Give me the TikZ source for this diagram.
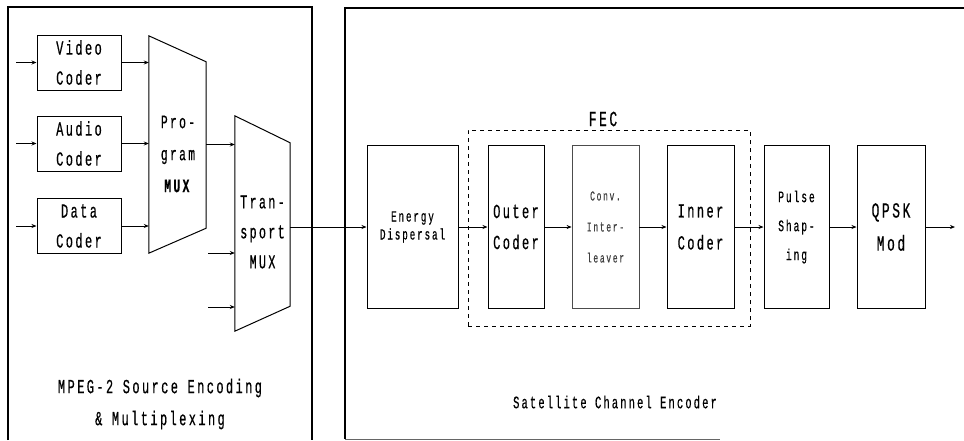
\documentclass[tikz,border=0pt]{standalone}
\usepackage{fontspec}
\setmainfont{Liberation Mono}[FakeStretch=0.6, LetterSpace=12, FakeBold=0.5]
\usetikzlibrary{positioning, arrows.meta}
\newcommand{\fsz}[2]{\fontsize{#1}{#2}\selectfont}

\begin{document}
\begin{tikzpicture}[
      x=1pt, y=-1pt,
      every node/.style={inner sep=0pt},
      block/.style={draw, line width=1pt, align=center},
      fecbox/.style={draw, dashed, line width=0.8pt, dash pattern=on 4pt off 4pt},
      arr/.style={-{Stealth[length=5pt, width=4pt]}, line width=0.7pt},
      >=Stealth,
    ]
    \useasboundingbox (0,0) rectangle (964,440);

    % Frames
    \draw[line width=1.2pt] (8,440) -- (8,7) -- (312,7) -- (312,440);
    \draw[line width=1.2pt] (964,8) -- (345,8) -- (345,439);
    \draw[line width=0.6pt, black!60] (345,439) -- (720,439);

    % Source coders
    \node[block, minimum width=84, minimum height=55, font=\fsz{20}{30}] (vc) at (79,62.5) {Video\\Coder};
    \node[block, minimum width=84, minimum height=55, font=\fsz{20}{30}] (ac) at (79,143.5) {Audio\\Coder};
    \node[block, minimum width=84, minimum height=55, font=\fsz{20}{30}] (dc) at (79,226) {Data\\Coder};
    \coordinate (vin) at (16,62.5);
    \coordinate (ain) at (16,143.5);
    \coordinate (din) at (16,226);
    \draw[arr] (vin) -- (vc.west);
    \draw[arr] (ain) -- (ac.west);
    \draw[arr] (din) -- (dc.west);

    % Program MUX
    \node[minimum width=57, minimum height=217] (pmux) at (177.5,144.5) {};
    \draw[line width=1pt] (pmux.north west) -- ([yshift=-26pt]pmux.north east)
      -- ([yshift=25pt]pmux.south east) -- (pmux.south west) -- cycle;
    \node[align=center, font=\fsz{19}{32}] (pmuxtxt) at (178,154) {Pro-\\gram\\\textbf{MUX}};
    \draw[arr] (vc.east) -- (vc.east -| pmux.west);
    \draw[arr] (ac.east) -- (ac.east -| pmux.west);
    \draw[arr] (dc.east) -- (dc.east -| pmux.west);

    % Transport MUX
    \node[minimum width=55, minimum height=215] (tmux) at (262.5,223.5) {};
    \draw[line width=1pt] (tmux.north west) -- ([yshift=-27pt]tmux.north east)
      -- ([yshift=25pt]tmux.south east) -- (tmux.south west) -- cycle;
    \node[align=center, font=\fsz{19.5}{30}] (tmuxtxt) at (262.5,232) {Tran-\\sport\\MUX};
    \draw[arr] (pmux.east) -- (pmux.east -| tmux.west);
    \coordinate (tin1) at (208,253);
    \coordinate (tin2) at (208,307);
    \draw[arr] (tin1) -- (tin1 -| tmux.west);
    \draw[arr] (tin2) -- (tin2 -| tmux.west);

    \node[align=center, font=\fsz{20}{32}] (srclbl) at (160,404) {MPEG-2 Source Encoding\\\& Multiplexing};

    % Channel encoder chain
    \node[block, minimum width=91, minimum height=163, font=\fsz{15.5}{18}] (ed) at (412.5,227) {Energy\\Dispersal};
    \node[block, minimum width=56, minimum height=163, font=\fsz{20}{31}] (oc) at (516,227) {Outer\\Coder};
    \node[block, draw=black!70, line width=0.8pt, minimum width=67, minimum height=163,
      font=\fsz{13.5}{31}, text=black!75] (ci) at (605.5,227) {Conv.\\Inter-\\leaver};
    \node[block, minimum width=67, minimum height=163, font=\fsz{20}{32}] (ic) at (700.5,227) {Inner\\Coder};
    \node[block, minimum width=65, minimum height=163, font=\fsz{16}{29}] (ps) at (796.5,227) {Pulse\\Shap-\\ing};
    \node[block, minimum width=68, minimum height=163, font=\fsz{21.5}{33}] (qm) at (891,227) {QPSK\\Mod};
    \coordinate (out) at (955,227);

    % FEC group
    \node[fecbox, minimum width=282, minimum height=196] (fec) at (609,228) {};
    \node[font=\fsz{21.5}{22}] (feclbl) at (603,119) {FEC};

    \draw[arr] (tmux.east |- ed) -- (ed.west);
    \draw[arr] (ed) -- (oc);
    \draw[arr] (oc) -- (ci);
    \draw[arr] (ci) -- (ic);
    \draw[arr] (ic) -- (ps);
    \draw[arr] (ps) -- (qm);
    \draw[arr] (qm) -- (out);

    \node[font=\fsz{17.5}{18}] (chlbl) at (615,402) {Satellite Channel Encoder};
  \end{tikzpicture}
\end{document}
